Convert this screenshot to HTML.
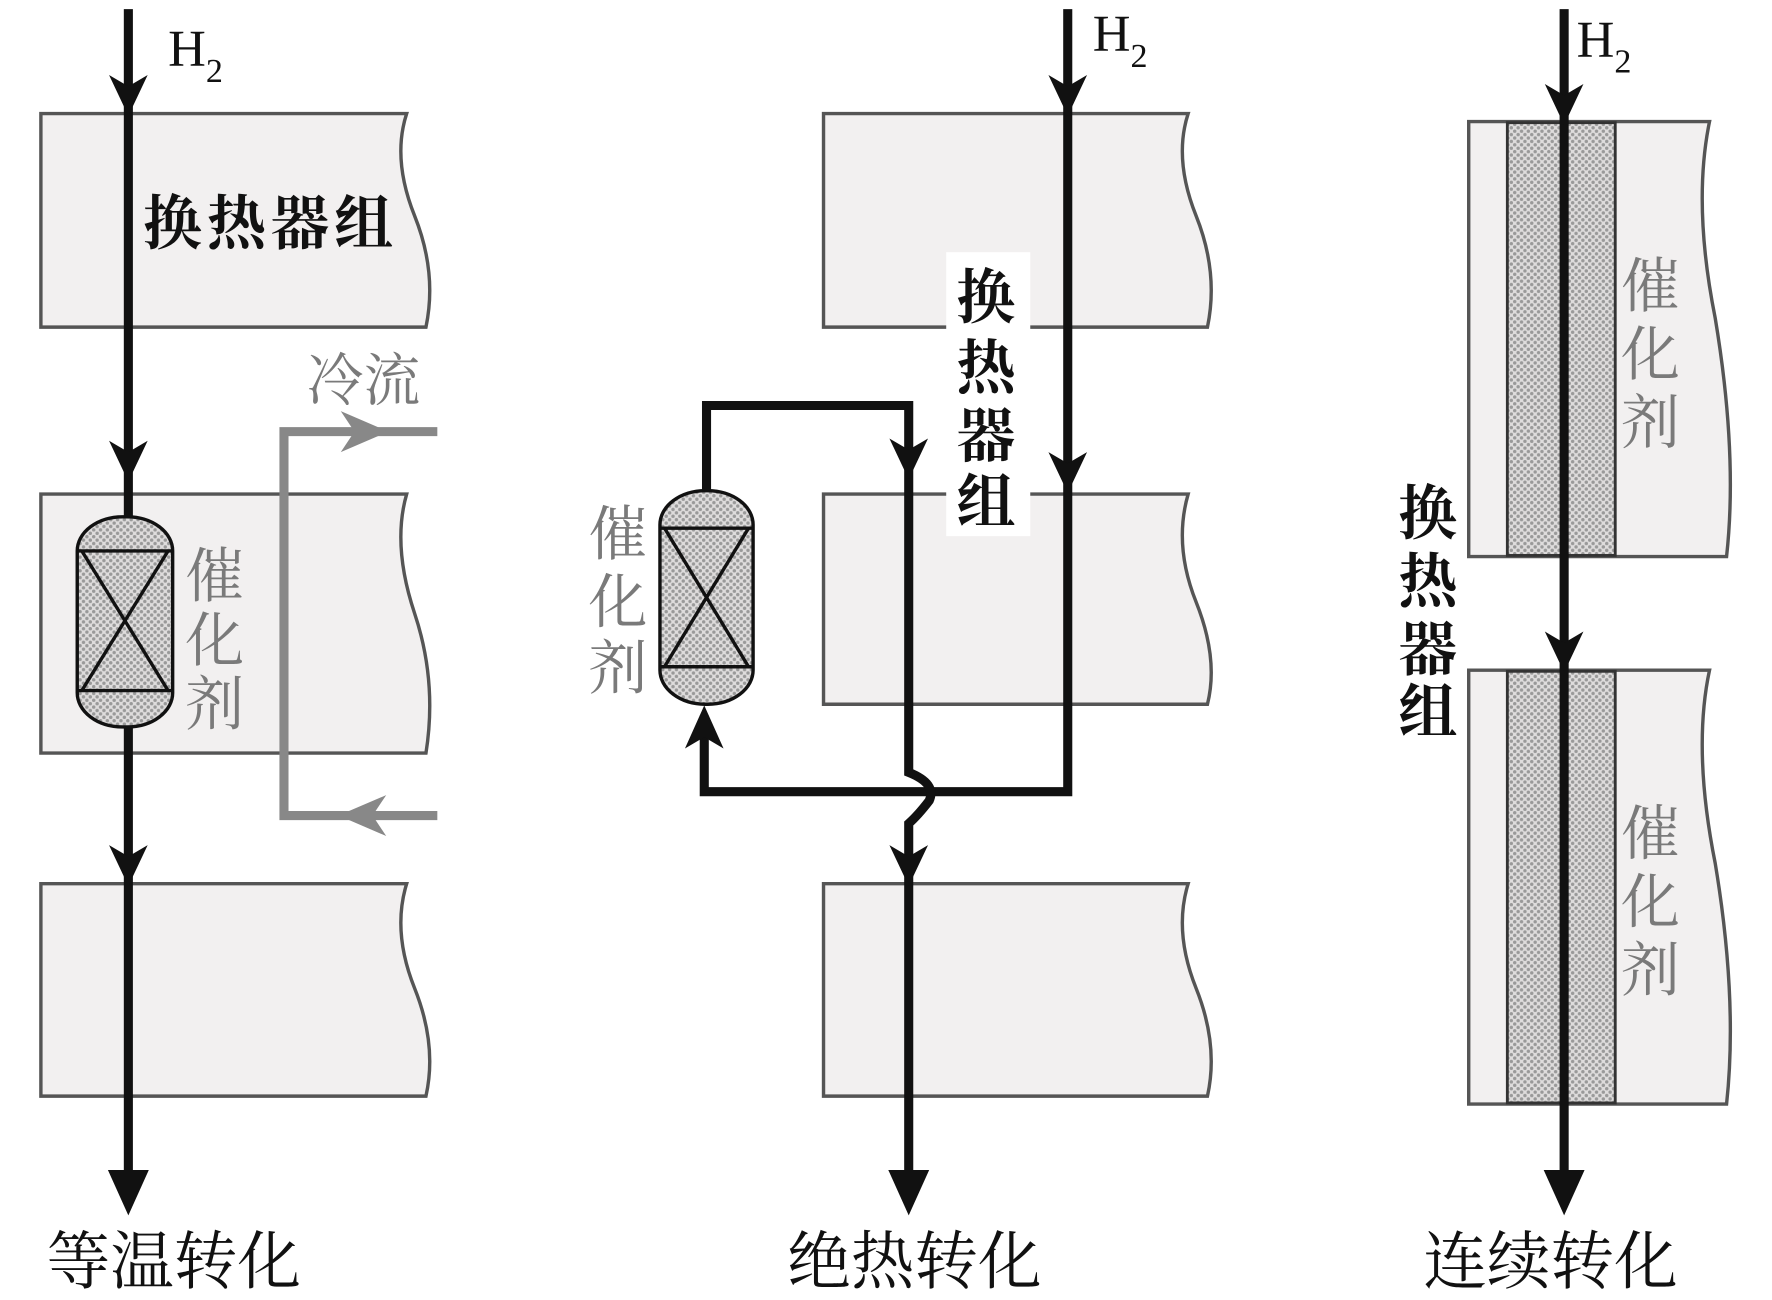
<!DOCTYPE html>
<html><head><meta charset="utf-8"><style>
html,body{margin:0;padding:0;background:#fff}
svg{display:block}
text{font-family:"Liberation Serif","Noto Serif CJK SC",serif}
</style></head><body>
<svg width="1772" height="1300" viewBox="0 0 1560 1144.5" preserveAspectRatio="none" xmlns="http://www.w3.org/2000/svg">
<defs>
<pattern id="hx" width="6" height="6" patternUnits="userSpaceOnUse">
<rect width="6" height="6" fill="#dedcdc"/>
<circle cx="1.5" cy="1.5" r="1.5" fill="#999"/>
<circle cx="4.5" cy="4.5" r="1.5" fill="#999"/>
</pattern>
</defs>
<g fill="#f2f0f0" stroke="#555" stroke-width="3">
<path d="M36,100 H358 Q345,140 365,190 Q385,240 375,288 H36 Z"/>
<path d="M36,435 H358 Q345,480 365,540 Q385,600 375,663 H36 Z"/>
<path d="M36,778 H358 Q345,820 365,870 Q385,920 375,965 H36 Z"/>
<path d="M725,100 H1046 Q1033,140 1053,190 Q1073,240 1063,288 H725 Z"/>
<path d="M725,435 H1046 Q1033,480 1053,530 Q1073,580 1063,620 H725 Z"/>
<path d="M725,778 H1046 Q1033,820 1053,870 Q1073,920 1063,965 H725 Z"/>
<path d="M1293,107 H1505 Q1490,180 1510,280 Q1530,400 1520,490 H1293 Z"/>
<path d="M1293,590 H1505 Q1490,660 1510,760 Q1530,880 1520,972 H1293 Z"/>
</g>
<g fill="url(#hx)" stroke="#333" stroke-width="2.5">
<rect x="1327" y="108" width="95" height="381"/>
<rect x="1327" y="591" width="95" height="380"/>
</g>
<rect x="833" y="222" width="74" height="250" fill="#fff"/>
<g stroke="#111" stroke-width="3">
<rect x="68" y="455" width="84" height="185" rx="40" ry="30" fill="url(#hx)"/>
<line x1="68" y1="485" x2="152" y2="485"/><line x1="68" y1="608" x2="152" y2="608"/>
<line x1="72" y1="485" x2="148" y2="608"/><line x1="148" y1="485" x2="72" y2="608"/>
<rect x="581" y="432" width="82" height="188" rx="40" ry="30" fill="url(#hx)"/>
<line x1="581" y1="465" x2="663" y2="465"/><line x1="581" y1="587" x2="663" y2="587"/>
<line x1="585" y1="465" x2="659" y2="587"/><line x1="659" y1="465" x2="585" y2="587"/>
</g>
<g stroke="#888" stroke-width="8" fill="none">
<path d="M385,380 H250 V718 H385"/>
</g>
<g fill="#888">
<polygon points="300,362 342,380 300,398 312,380"/>
<polygon points="340,700 298,718 340,736 328,718"/>
</g>
<g stroke="#111" stroke-width="8" fill="none">
<line x1="113" y1="8" x2="113" y2="455"/>
<line x1="113" y1="640" x2="113" y2="1045"/>
<path d="M940,8 V697 H620 V630"/>
<path d="M622,432 V357 H800 V680 Q825,690 818,705 Q808,718 800,725 V1045"/>
<line x1="1377" y1="8" x2="1377" y2="1045"/>
</g>
<g fill="#111">
<polygon points="96,66 113,102 130,66 113,76"/>
<polygon points="96,388 113,424 130,388 113,398"/>
<polygon points="96,744 113,780 130,744 113,754"/>
<polygon points="95,1030 113,1070 131,1030"/>
<polygon points="923,66 940,102 957,66 940,76"/>
<polygon points="923,398 940,434 957,398 940,408"/>
<polygon points="783,386 800,422 817,386 800,396"/>
<polygon points="783,744 800,780 817,744 800,754"/>
<polygon points="782,1030 800,1070 818,1030"/>
<polygon points="603,659 620,621 637,659 620,649"/>
<polygon points="1360,74 1377,110 1394,74 1377,84"/>
<polygon points="1360,556 1377,592 1394,556 1377,566"/>
<polygon points="1359,1030 1377,1070 1395,1030"/>
</g>
<g font-size="46" fill="#111">
<text x="148" y="58">H<tspan font-size="30" dy="14">2</tspan></text>
<text x="962" y="45">H<tspan font-size="30" dy="14">2</tspan></text>
<text x="1388" y="50">H<tspan font-size="30" dy="14">2</tspan></text>
</g>
<g font-size="52" fill="#111" font-weight="bold">
<text x="126" y="215" textLength="220">换热器组</text>
</g>
<g font-size="52" fill="#111" text-anchor="middle" font-weight="bold">
<text x="868" y="280">换</text><text x="868" y="342">热</text><text x="868" y="402">器</text><text x="868" y="460">组</text>
<text x="1257" y="470">换</text><text x="1257" y="530">热</text><text x="1257" y="590">器</text><text x="1257" y="645">组</text>
</g>
<g font-size="52" fill="#7a7a7a" text-anchor="middle">
<text x="189" y="525">催</text><text x="189" y="582">化</text><text x="189" y="638">剂</text>
<text x="544" y="488">催</text><text x="544" y="548">化</text><text x="544" y="606">剂</text>
<text x="1453" y="270">催</text><text x="1453" y="330">化</text><text x="1453" y="390">剂</text>
<text x="1453" y="752">催</text><text x="1453" y="812">化</text><text x="1453" y="872">剂</text>
<text x="320" y="352" font-size="50">冷流</text>
</g>
<g font-size="56" fill="#111" text-anchor="middle">
<text x="153" y="1130">等温转化</text>
<text x="805" y="1130">绝热转化</text>
<text x="1365" y="1130">连续转化</text>
</g>
</svg>
</body></html>
